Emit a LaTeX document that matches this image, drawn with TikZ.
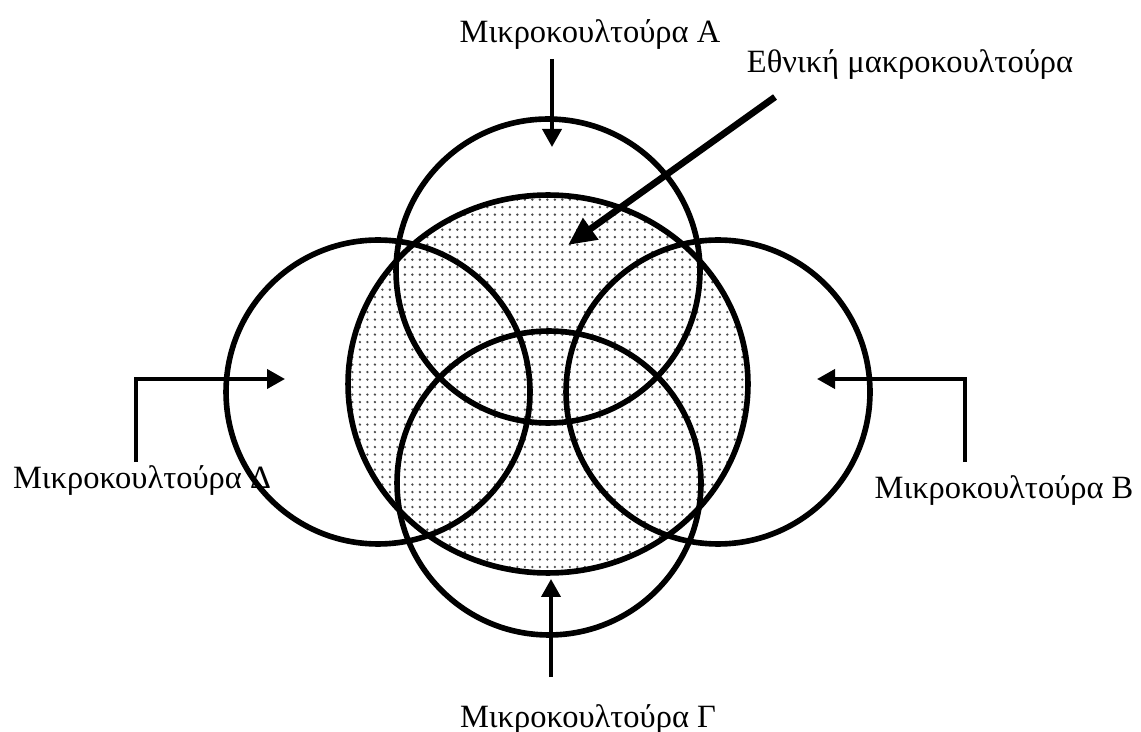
\documentclass[tikz,border=0pt]{standalone}
\usepackage{fontspec}
\setmainfont{Liberation Serif}
\usetikzlibrary{shapes.geometric,patterns.meta,arrows.meta,positioning}
\tikzset{
  ring/.style={draw, circle, line width=3.2pt, minimum size=6.08cm, inner sep=0pt},
  lbl/.style={font=\fontsize{18.5}{22}\selectfont, anchor=base, inner sep=0pt},
  ptr/.style={line width=2.2pt, -{Triangle[length=0.36cm,width=0.38cm]}},
}
\begin{document}
\begin{tikzpicture}[x=0.02cm,y=-0.02cm]
    \useasboundingbox (0,0) rectangle (1141,732);
    \node[draw, ellipse, line width=3.2pt, pattern={Dots[radius=0.75pt, distance=0.15cm]}, pattern color=black!70, minimum width=8cm, minimum height=7.56cm, inner sep=0pt] (n0) at (548,384) {};
    \node[ring] (n1) at (548,271) {};
    \node[ring] (n2) at (718,392) {};
    \node[ring] (n3) at (549,483) {};
    \node[ring] (n4) at (378,392) {};
    \node[lbl] (l1) at (590,43) {Μικροκουλτούρα Α};
    \node[lbl] (l0) at (910,73) {Εθνική μακροκουλτούρα};
    \node[lbl] (l2) at (1004,498) {Μικροκουλτούρα Β};
    \node[lbl] (l3) at (588,727) {Μικροκουλτούρα Γ};
    \node[lbl] (l4) at (142,488) {Μικροκουλτούρα Δ};
    \coordinate (a1) at (552,59);
    \coordinate (b1) at (552,147);
    \coordinate (a0) at (775,97);
    \coordinate (b0) at (568,245);
    \coordinate (a2) at (965,462);
    \coordinate (b2) at (817,379);
    \coordinate (a3) at (551,677);
    \coordinate (b3) at (551,579);
    \coordinate (a4) at (136,462);
    \coordinate (b4) at (285,379);
    \draw[ptr] (a1) -- (b1);
    \draw[ptr, line width=3.8pt, -{Triangle[length=0.56cm,width=0.5cm]}] (a0) -- (b0);
    \draw[ptr] (a2) |- (b2);
    \draw[ptr] (a3) -- (b3);
    \draw[ptr] (a4) |- (b4);
\end{tikzpicture}
\end{document}
